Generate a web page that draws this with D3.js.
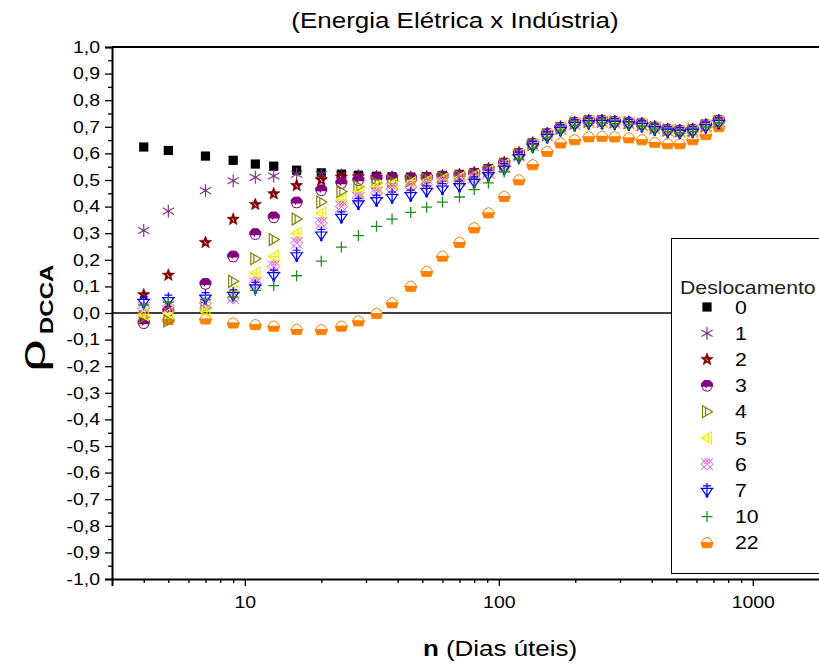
<!DOCTYPE html>
<html>
<head>
<meta charset="utf-8">
<script src="https://cdn.jsdelivr.net/npm/d3@7"></script>
<style>
  html, body { margin: 0; padding: 0; background: #fff; }
  svg { display: block; font-family: "Liberation Sans", Arial, sans-serif; }
</style>
</head>
<body>
<svg id="chart" width="819" height="664"></svg>
<script>
// ---- data ----
const nValues = [4, 5, 7, 9, 11, 13, 16, 20, 24, 28, 33, 38, 45, 52, 60, 70, 80, 91, 105, 120, 136, 155, 175, 199, 226, 255, 286, 325, 366, 411, 462, 516, 580, 653, 735];

const lag0  = [0.624, 0.611, 0.590, 0.574, 0.560, 0.552, 0.537, 0.527, 0.522, 0.518, 0.514, 0.512, 0.511, 0.513, 0.517, 0.521, 0.528, 0.543, 0.566, 0.603, 0.640, 0.676, 0.700, 0.718, 0.725, 0.725, 0.722, 0.719, 0.713, 0.701, 0.692, 0.688, 0.692, 0.709, 0.725];
const lag1  = [0.310, 0.383, 0.460, 0.497, 0.510, 0.515, 0.522, 0.521, 0.519, 0.516, 0.513, 0.511, 0.510, 0.512, 0.516, 0.520, 0.527, 0.542, 0.565, 0.602, 0.639, 0.675, 0.699, 0.717, 0.724, 0.724, 0.721, 0.718, 0.712, 0.700, 0.691, 0.687, 0.691, 0.708, 0.724];
const lag2  = [0.069, 0.142, 0.265, 0.352, 0.408, 0.448, 0.479, 0.500, 0.511, 0.512, 0.510, 0.509, 0.508, 0.510, 0.515, 0.519, 0.526, 0.541, 0.564, 0.601, 0.638, 0.674, 0.698, 0.716, 0.723, 0.723, 0.720, 0.717, 0.711, 0.699, 0.690, 0.686, 0.690, 0.707, 0.723];
const lag3  = [-0.038, 0.008, 0.110, 0.213, 0.297, 0.360, 0.416, 0.462, 0.489, 0.500, 0.505, 0.505, 0.505, 0.508, 0.513, 0.517, 0.524, 0.539, 0.562, 0.599, 0.636, 0.672, 0.697, 0.715, 0.722, 0.722, 0.719, 0.716, 0.710, 0.698, 0.689, 0.685, 0.689, 0.706, 0.722];
const lag4  = [-0.015, -0.030, 0.020, 0.119, 0.204, 0.276, 0.353, 0.417, 0.457, 0.476, 0.489, 0.494, 0.497, 0.502, 0.508, 0.513, 0.520, 0.535, 0.559, 0.597, 0.634, 0.670, 0.695, 0.714, 0.720, 0.721, 0.718, 0.715, 0.709, 0.697, 0.688, 0.684, 0.688, 0.705, 0.721];
const lag5  = [-0.006, 0.000, 0.006, 0.080, 0.150, 0.213, 0.300, 0.376, 0.426, 0.457, 0.475, 0.484, 0.489, 0.495, 0.502, 0.507, 0.516, 0.532, 0.556, 0.595, 0.633, 0.669, 0.694, 0.713, 0.719, 0.720, 0.717, 0.714, 0.708, 0.696, 0.687, 0.683, 0.687, 0.704, 0.720];
const lag6  = [0.019, 0.025, 0.038, 0.056, 0.113, 0.175, 0.263, 0.338, 0.400, 0.432, 0.451, 0.466, 0.474, 0.483, 0.491, 0.498, 0.509, 0.527, 0.552, 0.592, 0.631, 0.667, 0.692, 0.711, 0.718, 0.719, 0.716, 0.713, 0.707, 0.695, 0.686, 0.682, 0.686, 0.703, 0.719];
const lag7  = [0.044, 0.050, 0.060, 0.070, 0.098, 0.144, 0.219, 0.297, 0.363, 0.414, 0.426, 0.438, 0.445, 0.461, 0.470, 0.479, 0.495, 0.520, 0.545, 0.588, 0.628, 0.664, 0.690, 0.709, 0.716, 0.717, 0.714, 0.711, 0.705, 0.693, 0.684, 0.680, 0.684, 0.701, 0.717];
const lag10 = [0.030, 0.040, 0.050, 0.060, 0.085, 0.103, 0.140, 0.195, 0.248, 0.291, 0.326, 0.353, 0.378, 0.398, 0.417, 0.436, 0.464, 0.489, 0.530, 0.578, 0.620, 0.658, 0.685, 0.705, 0.713, 0.714, 0.712, 0.709, 0.703, 0.691, 0.682, 0.678, 0.682, 0.699, 0.715];
const lag22 = [-0.030, -0.025, -0.023, -0.038, -0.044, -0.050, -0.062, -0.063, -0.050, -0.030, -0.002, 0.038, 0.100, 0.156, 0.213, 0.265, 0.320, 0.376, 0.438, 0.500, 0.557, 0.607, 0.639, 0.651, 0.662, 0.664, 0.662, 0.658, 0.651, 0.641, 0.636, 0.636, 0.651, 0.670, 0.700];

const seriesLabels = ["0", "1", "2", "3", "4", "5", "6", "7", "10", "22"];
const seriesValues = [lag0, lag1, lag2, lag3, lag4, lag5, lag6, lag7, lag10, lag22];

const yMajorTicks = [-1, -0.9, -0.8, -0.7, -0.6, -0.5, -0.4, -0.3, -0.2, -0.1, 0, 0.1, 0.2, 0.3, 0.4, 0.5, 0.6, 0.7, 0.8, 0.9, 1];
const xMajorTicks = [10, 100, 1000];

const titleText = "(Energia Elétrica x Indústria)";
const legendTitle = "Deslocamento";

// ---- styles ----
const symbolTypes = ["square", "asterisk", "star", "acorn", "triRight", "triLeft", "lattice", "triCross", "plus", "cupcake"];
const colors = ["#000000", "#84388a", "#800000", "#800080", "#808000", "#f2f200", "#e055e0", "#0000ff", "#1f8f1f", "#ff8000"];
const drawOrder = [9, 0, 1, 2, 3, 4, 5, 6, 7, 8];
const SX = 1.18; // horizontal text stretch seen in the reference

const svg = d3.select("#chart");
const plotLeft = 112, plotTop = 47, plotBottom = 579;
const decade = 254;

const x = d3.scaleLog().domain([3, 3000]).range([plotLeft, plotLeft + decade * Math.log10(1000)]);
const y = d3.scaleLinear().domain([-1, 1]).range([plotBottom, plotTop]);
const plotRight = x.range()[1];

function drawSymbol(g, type, c) {
  switch (type) {
    case "square":
      g.append("rect").attr("x", -4.6).attr("y", -4.6).attr("width", 9.2).attr("height", 9.2).attr("fill", c);
      break;
    case "asterisk":
      g.append("path").attr("d", "M0,-6.5L0,6.5M-5.6,-3.3L5.6,3.3M-5.6,3.3L5.6,-3.3")
        .attr("stroke", c).attr("stroke-width", 1.2).attr("fill", "none");
      g.append("circle").attr("r", 1.3).attr("fill", c);
      break;
    case "star": {
      const pts = [];
      for (let i = 0; i < 10; i++) {
        const r = i % 2 === 0 ? 6.5 : 2.8;
        const a = -Math.PI / 2 + i * Math.PI / 5;
        pts.push([r * Math.cos(a), r * Math.sin(a)]);
      }
      g.append("path").attr("d", "M" + pts.map(p => p.join(",")).join("L") + "Z").attr("fill", c).attr("stroke", c).attr("stroke-width", 0.6);
      g.append("path").attr("d", "M-1,-1L1,2").attr("stroke", "#fff").attr("stroke-width", 0.8);
      break;
    }
    case "acorn":
      g.append("path").attr("d", "M-5.5,0.5L-5.5,-2.2L-2.8,-5.2L2.8,-5.2L5.5,-2.2L5.5,0.5L3.2,4.8L0,5.5L-3.2,4.8Z")
        .attr("fill", "#fff").attr("stroke", c).attr("stroke-width", 1);
      g.append("path").attr("d", "M-5.5,1.2L-5.5,-2.2L-2.8,-5.2L2.8,-5.2L5.5,-2.2L5.5,1.2L0,1.2L-1,3L-2,1.2Z").attr("fill", c);
      break;
    case "triRight":
      g.append("path").attr("d", "M-4.5,-6L5.5,0L-4.5,6Z M-1.5,-4.2L-1.5,4.2")
        .attr("fill", "none").attr("stroke", c).attr("stroke-width", 1.2);
      break;
    case "triLeft":
      g.append("path").attr("d", "M4.5,-6L-5.5,0L4.5,6Z M-5.5,0L4.5,0 M1.5,-4.2L1.5,4.2")
        .attr("fill", "none").attr("stroke", c).attr("stroke-width", 1.2);
      break;
    case "lattice":
      g.append("path").attr("d", "M-6,-6L6,6M-6,6L6,-6M0,-6L6,0L0,6L-6,0Z M-3,-6L3,0M3,-6L-3,0")
        .attr("fill", "none").attr("stroke", c).attr("stroke-width", 1);
      break;
    case "triCross":
      g.append("path").attr("d", "M-5.5,-2L5.5,-2L0,6Z M-6.5,-2L6.5,-2 M0,-7.5L0,6 M-4,-4.5L4,-4.5")
        .attr("fill", "none").attr("stroke", c).attr("stroke-width", 1.2);
      g.append("circle").attr("cy", 6).attr("r", 1.4).attr("fill", c);
      break;
    case "plus":
      g.append("path").attr("d", "M-5.5,0L5.5,0M0,-5.5L0,5.5")
        .attr("fill", "none").attr("stroke", c).attr("stroke-width", 1.3);
      break;
    case "cupcake":
      g.append("path").attr("d", "M-6,0L-3.5,-3.8L0,-5.5L3.5,-3.8L6,0Z")
        .attr("fill", "#fff").attr("stroke", c).attr("stroke-width", 1);
      g.append("path").attr("d", "M-6,0L6,0L4.5,5L-4.5,5Z").attr("fill", c).attr("stroke", c).attr("stroke-width", 0.8);
      break;
  }
}

function stretchedText(parent, px, py, size, txt, anchor, sx) {
  return parent.append("text").attr("transform", `translate(${px},${py}) scale(${sx || SX},1)`)
    .attr("text-anchor", anchor || "start").attr("font-size", size).attr("fill", "#000").text(txt);
}

// clip for plot area
svg.append("defs").append("clipPath").attr("id", "plotclip")
  .append("rect").attr("x", plotLeft).attr("y", plotTop - 10).attr("width", plotRight - plotLeft + 10).attr("height", plotBottom - plotTop + 20);

// title
stretchedText(svg, 455, 28, 22, titleText, "middle");

// zero line
svg.append("line").attr("x1", plotLeft).attr("x2", plotRight).attr("y1", y(0)).attr("y2", y(0))
  .attr("stroke", "#000").attr("stroke-width", 1.6);

// points
const plot = svg.append("g").attr("clip-path", "url(#plotclip)");
drawOrder.forEach(si => {
  const sg = plot.append("g");
  seriesValues[si].forEach((v, i) => {
    const g = sg.append("g").attr("transform", `translate(${x(nValues[i])},${y(v)})`);
    drawSymbol(g, symbolTypes[si], colors[si]);
  });
});

// axes
const fmt = d => (Math.abs(d) < 1e-9 ? "0,0" : d.toFixed(1).replace(".", ","));
const yMinor = yMajorTicks.slice(0, -1).map(d => +(d + 0.05).toFixed(2));

svg.append("g").attr("transform", `translate(${plotLeft},0)`)
  .call(d3.axisLeft(y).tickValues(yMajorTicks).tickFormat(fmt).tickSize(7).tickPadding(5))
  .call(g => g.selectAll(".tick text").attr("transform", `scale(${SX},1)`).attr("x", -12 / SX));
svg.append("g").attr("transform", `translate(${plotLeft},0)`)
  .call(d3.axisLeft(y).tickValues(yMinor).tickFormat("").tickSize(4))
  .call(g => g.select(".domain").remove());

const xMinor = [];
[1, 10, 100, 1000].forEach(b => { for (let k = 2; k <= 9; k++) { const v = b * k; if (v > 3 && v < 3000) xMinor.push(v); } });

svg.append("g").attr("transform", `translate(0,${plotBottom})`)
  .call(d3.axisBottom(x).tickValues(xMajorTicks).tickFormat(d3.format("d")).tickSize(7).tickPadding(10))
  .call(g => g.selectAll(".tick text").attr("transform", `scale(${SX},1)`));
svg.append("g").attr("transform", `translate(0,${plotBottom})`)
  .call(d3.axisBottom(x).tickValues(xMinor).tickFormat("").tickSize(4))
  .call(g => g.select(".domain").remove());

svg.selectAll(".tick text").attr("font-size", 16.5).attr("font-family", "Liberation Sans, Arial, sans-serif").attr("fill", "#000");
svg.selectAll(".tick line").attr("stroke", "#000").attr("stroke-width", 1.3);
svg.selectAll(".domain").attr("stroke", "#000").attr("stroke-width", 2);

// frame top and right
svg.append("line").attr("x1", plotLeft).attr("x2", plotRight).attr("y1", plotTop).attr("y2", plotTop).attr("stroke", "#000").attr("stroke-width", 2);
svg.append("line").attr("x1", plotRight).attr("x2", plotRight).attr("y1", plotTop).attr("y2", plotBottom).attr("stroke", "#000").attr("stroke-width", 2);

// axis titles
const xt = svg.append("text").attr("transform", `translate(500,656) scale(${SX},1)`).attr("text-anchor", "middle").attr("font-size", 22).attr("fill", "#000");
xt.append("tspan").attr("font-weight", "bold").text("n");
xt.append("tspan").text(" (Dias úteis)");

const ytg = svg.append("g").attr("transform", "translate(45,317) rotate(-90)");
stretchedText(ytg, -55, 0, 36, "ρ", "start", 1.6);
stretchedText(ytg, -17, 8, 18.5, "DCCA", "start", 1.3).attr("font-weight", "bold");

// legend
const lg = svg.append("g");
lg.append("rect").attr("x", 671.5).attr("y", 238.5).attr("width", 170).attr("height", 335)
  .attr("fill", "#fff").attr("stroke", "#000").attr("stroke-width", 1);
stretchedText(lg, 680, 294, 18, legendTitle).attr("fill", "#222");
seriesLabels.forEach((lab, i) => {
  const cy = 307 + i * 26.2;
  const g = lg.append("g").attr("transform", `translate(707,${cy})`);
  drawSymbol(g, symbolTypes[i], colors[i]);
  stretchedText(lg, 735, cy + 6.5, 18, lab);
});
</script>
</body>
</html>
